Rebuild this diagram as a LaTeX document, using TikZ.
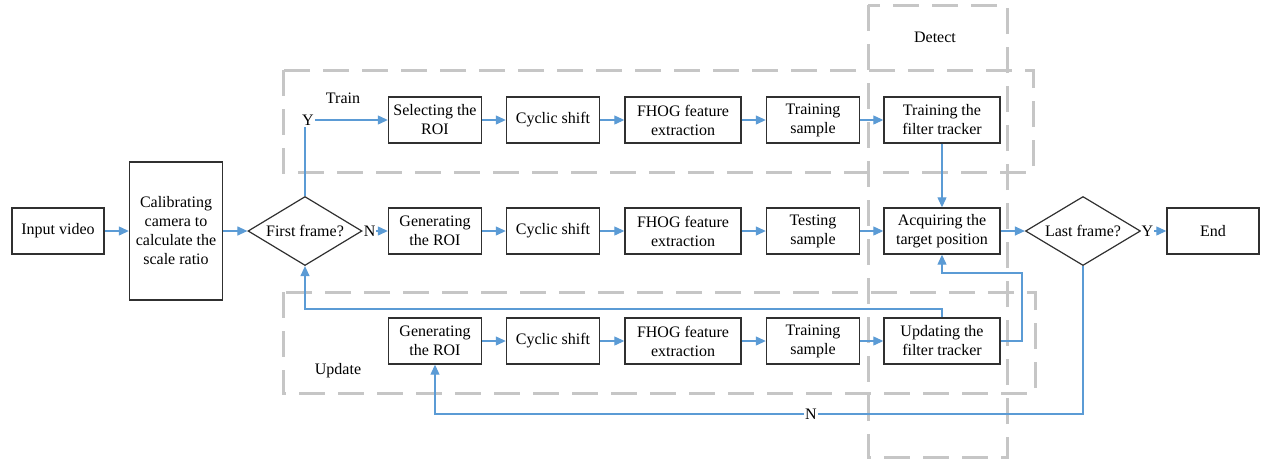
\documentclass[tikz,border=0pt]{standalone}
\usepackage{fontspec}
\setmainfont{Liberation Serif}
\usetikzlibrary{arrows.meta,shapes.geometric}
\definecolor{conn}{HTML}{5B9BD5}
\definecolor{grp}{HTML}{C6C6C6}
\definecolor{bord}{HTML}{303030}
\tikzset{
  box/.style={draw=bord,line width=0.7pt,minimum height=23pt,inner sep=1pt,align=center,font=\fontsize{8}{9.5}\selectfont},
  wbox/.style={box,minimum width=58pt},
  nbox/.style={box,minimum width=46.5pt},
  dec/.style={draw=bord,line width=0.6pt,shape=diamond,inner sep=0pt,aspect=1.65,minimum width=57pt,minimum height=34.5pt,font=\fontsize{8}{9.5}\selectfont},
  conline/.style={draw=conn,line width=0.6pt},
  arr/.style={conline,-{Triangle[length=5pt,width=4.5pt]}},
  grpbox/.style={draw=grp,line width=1.5pt,dash pattern=on 13pt off 6.5pt},
  lbl/.style={font=\fontsize{8}{9.5}\selectfont,inner sep=0.5pt},
  flbl/.style={lbl,fill=white}
}
\begin{document}
\begin{tikzpicture}[x=0.5pt,y=-0.5pt]
\useasboundingbox (0,0) rectangle (1266,462);
% group frames
\draw[grpbox] (283,70) rectangle (1033,172);
\draw[grpbox] (283,292) rectangle (1035,393);
\draw[grpbox] (868,5) rectangle (1007,457);
\node[lbl] (tDetect) at (935,37) {Detect};
\node[lbl] (tTrain) at (343,98) {Train};
\node[lbl] (tUpdate) at (338,371) {Update};
% main line
\node[box,minimum width=46pt] (inp) at (58,231) {Input video};
\node[box,minimum width=46.5pt,minimum height=69pt] (cal) at (176,231) {Calibrating\\camera to\\calculate the\\scale ratio};
\node[dec] (ff) at (305,231) {First frame?};
\node[dec,minimum width=57.5pt] (lf) at (1083,231) {Last frame?};
\node[box,minimum width=46pt] (end) at (1213,231) {End};
% row 1
\node[nbox] (s1) at (435,120) {Selecting the\\ROI};
\node[nbox] (s2) at (553,120) {Cyclic shift};
\node[wbox] (s3) at (683,120) {FHOG feature\\extraction};
\node[nbox] (s4) at (813,120) {Training\\sample};
\node[wbox] (s5) at (942,120) {Training the\\filter tracker};
% row 2
\node[nbox] (g1) at (435,231) {Generating\\the ROI};
\node[nbox] (g2) at (553,231) {Cyclic shift};
\node[wbox] (g3) at (683,231) {FHOG feature\\extraction};
\node[nbox] (g4) at (813,231) {Testing\\sample};
\node[wbox] (a5) at (942,231) {Acquiring the\\target position};
% row 3
\node[nbox] (u1) at (435,341) {Generating\\the ROI};
\node[nbox] (u2) at (553,341) {Cyclic shift};
\node[wbox] (u3) at (683,341) {FHOG feature\\extraction};
\node[nbox] (u4) at (813,341) {Training\\sample};
\node[wbox] (u5) at (942,341) {Updating the\\filter tracker};
% helper coordinates
\node[lbl] (ylab) at (308,120) {Y};
\coordinate (nrow) at (0,414);
\coordinate (rx) at (1022,273);
\coordinate (ly) at (0,309);
% connectors
\draw[arr] (inp) -- (cal);
\draw[arr] (cal) -- (ff);
\draw[conline] (ff.north) -- (ff.north |- ylab.south);
\draw[arr] (ylab.east) -- (ylab.east -| s1.west);
\draw[arr] (ff.east) -- node[flbl,pos=0.28]{N} (g1.west);
\draw[arr] (s1) -- (s2);
\draw[arr] (s2) -- (s3);
\draw[arr] (s3) -- (s4);
\draw[arr] (s4) -- (s5);
\draw[arr] (g1) -- (g2);
\draw[arr] (g2) -- (g3);
\draw[arr] (g3) -- (g4);
\draw[arr] (g4) -- (a5);
\draw[arr] (u1) -- (u2);
\draw[arr] (u2) -- (u3);
\draw[arr] (u3) -- (u4);
\draw[arr] (u4) -- (u5);
\draw[arr] (s5) -- (a5);
\draw[arr] (a5) -- (lf);
\draw[arr] (lf.east) -- node[flbl,pos=0.25]{Y} (end.west);
\draw[arr] (lf.south) -- (lf.south |- nrow) -- node[flbl,pos=0.42]{N} (u1.south |- nrow) -- (u1.south);
\draw[arr] (u5.east) -| (rx) -| (a5.south);
\draw[arr] (u5.north) |- (ff.south |- ly) -- (ff.south);
\end{tikzpicture}
\end{document}
